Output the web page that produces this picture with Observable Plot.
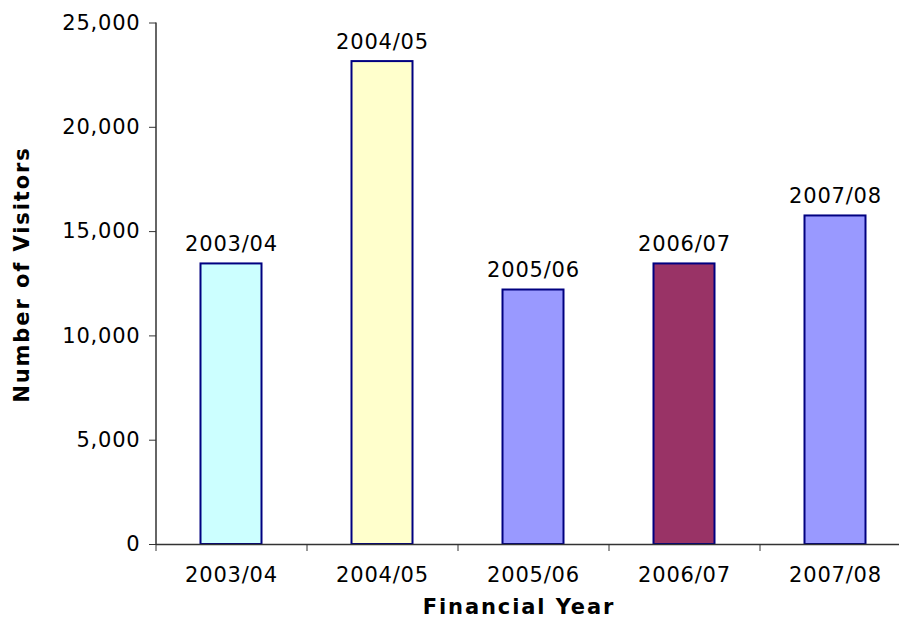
<!DOCTYPE html>
<html>
<head>
<meta charset="utf-8">
<script src="https://cdn.jsdelivr.net/npm/d3@7"></script>
<script src="https://cdn.jsdelivr.net/npm/@observablehq/plot@0.6"></script>
<style>
  html, body { margin: 0; padding: 0; background: #fff; overflow: hidden; }
  svg text { letter-spacing: 0.8px; }
  svg g[font-weight="bold"] text { letter-spacing: 1.9px; }
</style>
</head>
<body>
<div id="chart"></div>
<script>
// Visitors per financial year
const years = ["2003/04", "2004/05", "2005/06", "2006/07", "2007/08"];
const visitors = [13450, 23150, 12200, 13450, 15750];
const fills = ["#CCFFFF", "#FFFFCC", "#9999FF", "#993366", "#9999FF"];
const yTicks = [0, 5000, 10000, 15000, 20000, 25000];
const xTitle = "Financial Year";
const yTitle = "Number of Visitors";

const data = years.map((year, i) => ({i, year, visitors: visitors[i], fill: fills[i]}));
const bounds = d3.range(years.length + 1);
const centers = years.map((_, i) => i + 0.5);

const chart = Plot.plot({
  width: 899,
  height: 619,
  marginLeft: 156,
  marginRight: 0,
  marginTop: 22,
  marginBottom: 75,
  style: {fontFamily: "'DejaVu Sans', Verdana, sans-serif", fontSize: "21px", color: "#000", background: "#fff"},
  x: {type: "linear", domain: [0, years.length], range: [155.5, 910.5]},
  y: {domain: [0, 25000], range: [544, 22.5]},
  color: {type: "identity"},
  marks: [
    Plot.rectY(data, {
      x1: "i", x2: d => d.i + 1, y: "visitors",
      fill: "fill", stroke: "#000080", strokeWidth: 2,
      insetLeft: 45, insetRight: 45
    }),
    Plot.text(data, {
      x: d => d.i + 0.5, y: "visitors", text: "year",
      dy: -13, lineAnchor: "bottom", fill: "#000"
    }),
    // axis lines
    Plot.ruleY([0], {stroke: "#333", strokeWidth: 1.5}),
    Plot.ruleX([0], {y1: 0, y2: 25000, stroke: "#333", strokeWidth: 1.5}),
    Plot.axisY({
      ticks: yTicks, tickSize: 7, tickPadding: 9,
      tickFormat: d3.format(","), label: null, stroke: "#333"
    }),
    // boundary ticks between categories
    Plot.axisX({ticks: bounds, tickSize: 7, tickFormat: () => "", label: null, stroke: "#333"}),
    // category labels under each bar
    Plot.axisX({
      ticks: centers, tickSize: 0, tickPadding: 23,
      tickFormat: d => years[Math.floor(d)], label: null
    }),
    Plot.text([xTitle], {
      text: d => d, frameAnchor: "bottom", dx: -9, dy: 63,
      textAnchor: "middle", lineAnchor: "middle", fontWeight: "bold", fill: "#000"
    }),
    Plot.text([yTitle], {
      text: d => d, frameAnchor: "left", rotate: -90, dx: -134, dy: -9,
      textAnchor: "middle", lineAnchor: "middle", fontWeight: "bold", fill: "#000"
    })
  ]
});

document.getElementById("chart").appendChild(chart);
</script>
</body>
</html>
